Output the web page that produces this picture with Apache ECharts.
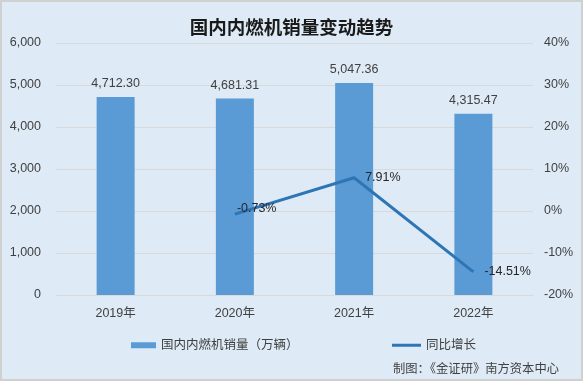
<!DOCTYPE html>
<html><head><meta charset="utf-8">
<script src="https://cdn.jsdelivr.net/npm/echarts@6/dist/echarts.min.js"></script>
<style>html,body{margin:0;padding:0;background:#DEEBF7}#c{width:583px;height:381px}</style>
</head><body><div id="c"></div>
<script>
const categories = ['2019年', '2020年', '2021年', '2022年'];
const salesValues = [4712.30, 4681.31, 5047.36, 4315.47];
const growthValues = [null, -0.73, 7.91, -14.51];
const leftTicks = {min: 0, max: 6000, interval: 1000};
const rightTicks = {min: -20, max: 40, interval: 10};
const titleText = '国内内燃机销量变动趋势';
const seriesNames = ['国内内燃机销量（万辆）', '同比增长'];
const footerText = '制图：《金证研》南方资本中心';

const FONT = '"Liberation Sans", "Noto Sans CJK SC", sans-serif';
const txt = '#404040';
const fmt = v => v.toLocaleString('en-US', {minimumFractionDigits: 2, maximumFractionDigits: 2});

const chart = echarts.init(document.getElementById('c'), null, {renderer: 'canvas'});
chart.setOption({
  backgroundColor: '#DEEBF7',
  animation: false,
  title: {
    text: titleText, left: 'center', top: 13,
    textStyle: {fontFamily: '"Noto Sans CJK SC", sans-serif', fontSize: 18.5, fontWeight: 'bold', color: '#1a1a1a'}
  },
  grid: {left: 56, right: 50, top: 43, bottom: 86, containLabel: false},
  legend: [
    {data: [seriesNames[0]], left: 126, top: 334, icon: 'rect', itemWidth: 25, itemHeight: 6,
     textStyle: {fontFamily: FONT, fontSize: 12.5, color: txt}},
    {data: [seriesNames[1]], left: 387, top: 334, icon: 'rect', itemWidth: 29, itemHeight: 3,
     textStyle: {fontFamily: FONT, fontSize: 12.5, color: txt}}
  ],
  xAxis: {
    type: 'category', data: categories,
    axisLine: {lineStyle: {color: '#D9D9D9'}}, axisTick: {show: false},
    axisLabel: {color: txt, fontFamily: FONT, fontSize: 12.5, margin: 12}
  },
  yAxis: [
    {type: 'value', min: leftTicks.min, max: leftTicks.max, interval: leftTicks.interval,
     axisLine: {show: false}, axisTick: {show: false},
     splitLine: {lineStyle: {color: '#D9D9D9'}},
     axisLabel: {color: txt, fontFamily: FONT, fontSize: 12.5, margin: 15,
       formatter: v => v.toLocaleString('en-US')}},
    {type: 'value', min: rightTicks.min, max: rightTicks.max, interval: rightTicks.interval,
     axisLine: {show: false}, axisTick: {show: false}, splitLine: {show: false},
     axisLabel: {color: txt, fontFamily: FONT, fontSize: 12.5, margin: 11, formatter: '{value}%'}}
  ],
  series: [
    {name: seriesNames[0], type: 'bar', data: salesValues, barWidth: 38, yAxisIndex: 0,
     itemStyle: {color: '#5B9BD5'},
     label: {show: true, position: 'top', distance: 7, color: txt, fontFamily: FONT, fontSize: 12.5,
       formatter: p => fmt(p.value)}},
    {name: seriesNames[1], type: 'line', data: growthValues.map((v, i) => i === 1 ?
       {value: v, label: {position: 'right', distance: 2, offset: [0, -6]}} : v),
     yAxisIndex: 1, z: 5,
     symbol: 'circle', symbolSize: 0, showSymbol: true,
     lineStyle: {color: '#2E75B6', width: 3}, itemStyle: {color: '#2E75B6'},
     label: {show: true, position: 'right', distance: 11, color: '#262626', fontFamily: FONT, fontSize: 12.5,
       formatter: p => p.value.toFixed(2) + '%'}}
  ],
  graphic: [
    {type: 'text', left: 393, top: 362, style: {text: footerText, fill: txt,
      font: '12.3px "Noto Sans CJK SC", sans-serif'}},
    {type: 'rect', shape: {x: 1, y: 1, width: 581, height: 379}, silent: true,
     style: {fill: 'none', stroke: '#D0D0D0', lineWidth: 2}}
  ]
});
</script></body></html>
